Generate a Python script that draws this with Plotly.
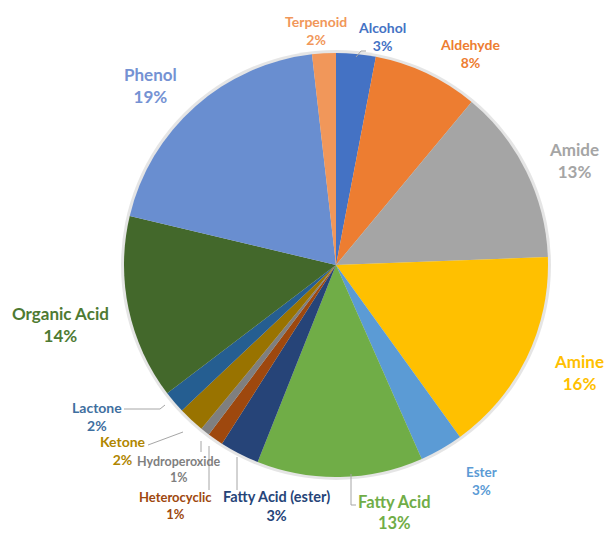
import plotly.graph_objects as go

labels = ["Alcohol", "Aldehyde", "Amide", "Amine", "Ester", "Fatty Acid",
          "Fatty Acid (ester)", "Heterocyclic", "Hydroperoxide", "Ketone",
          "Lactone", "Organic Acid", "Phenol", "Terpenoid"]
values = [3.0, 8.0, 13.3, 15.6, 3.3, 12.6, 3.0, 1.2, 0.7, 2.0, 1.7, 14.0, 19.4, 1.8]
slice_colors = ["#4472C4", "#ED7D31", "#A5A5A5", "#FFC000", "#5B9BD5", "#70AD47",
                "#264478", "#9E480E", "#7F7F7F", "#997300", "#255E91", "#43682B",
                "#698ED0", "#F1975A"]
text_colors = ["#4472C4", "#ED7D31", "#A5A5A5", "#FFC000", "#5B9BD5", "#70AD47",
               "#264478", "#9E480E", "#7F7F7F", "#B08600", "#3F6FA0", "#4E7A32",
               "#7592D3", "#F1975A"]

W, H = 605, 537

# label placement (pixel centres), font sizes and leader lines
label_pos = {
    "Alcohol": (382, 37), "Aldehyde": (470, 53), "Amide": (574, 160),
    "Amine": (579, 372), "Ester": (481, 481), "Fatty Acid": (394, 512),
    "Fatty Acid (ester)": (276, 506), "Heterocyclic": (175, 505),
    "Hydroperoxide": (179, 469), "Ketone": (123, 451), "Lactone": (97, 416),
    "Organic Acid": (60, 324), "Phenol": (150, 86), "Terpenoid": (316, 30),
}
label_size = {
    "Alcohol": 14, "Aldehyde": 14, "Amide": 17, "Amine": 17, "Ester": 13.5,
    "Fatty Acid": 16.5, "Fatty Acid (ester)": 14.5, "Heterocyclic": 13,
    "Hydroperoxide": 12.5, "Ketone": 14, "Lactone": 14, "Organic Acid": 17,
    "Phenol": 17, "Terpenoid": 14,
}
leaders = [
    [(356, 57), (361, 51), (366, 51)],
    [(124, 409), (160, 409), (165, 405)],
    [(148, 445), (183, 432)],
    [(201, 441), (201, 452)],
    [(209, 446), (209, 490)],
    [(237, 457), (237, 490)],
    [(351, 474), (351, 505), (356, 505)],
]

def px(x, y):
    return x / W, 1 - y / H

total = sum(values)
fig = go.Figure()
cx, cy, r = 336, 265, 212
x0, y0 = px(cx - r, cy + r)
x1, y1 = px(cx + r, cy - r)
fig.add_trace(go.Pie(
    labels=labels, values=values, sort=False, direction="clockwise", rotation=0,
    marker=dict(colors=slice_colors, line=dict(color="white", width=0)),
    textinfo="none", hoverinfo="label+percent", showlegend=False,
    domain=dict(x=[x0, x1], y=[y0, y1]),
))

annotations = []
for lab, val, col in zip(labels, values, text_colors):
    x, y = px(*label_pos[lab])
    pct = round(100 * val / total)
    annotations.append(dict(
        x=x, y=y, xref="paper", yref="paper", showarrow=False,
        text=f"<b>{lab}<br>{pct}%</b>", align="center",
        font=dict(family="Lato, Open Sans, sans-serif", size=label_size[lab], color=col),
        xanchor="center", yanchor="middle",
    ))

shapes = []
# faint shadow ring around the pie
sx0, sy0 = px(cx - r - 3, cy + r + 3)
sx1, sy1 = px(cx + r + 3, cy - r - 3)
shapes.append(dict(type="circle", xref="paper", yref="paper", layer="below",
                   x0=sx0, y0=sy0, x1=sx1, y1=sy1,
                   fillcolor="rgba(0,0,0,0.10)", line=dict(width=0)))
for pts in leaders:
    for (a, b), (c, d) in zip(pts[:-1], pts[1:]):
        xa, ya = px(a, b)
        xc, yc = px(c, d)
        shapes.append(dict(type="line", xref="paper", yref="paper",
                           x0=xa, y0=ya, x1=xc, y1=yc,
                           line=dict(color="#A6A6A6", width=1)))

fig.update_layout(
    width=W, height=H, margin=dict(l=0, r=0, t=0, b=0),
    paper_bgcolor="white", plot_bgcolor="white",
    annotations=annotations, shapes=shapes,
)
fig.write_html("out.html", config={"displayModeBar": False},
               post_script="document.body.style.margin='0';document.body.style.overflow='hidden';")
